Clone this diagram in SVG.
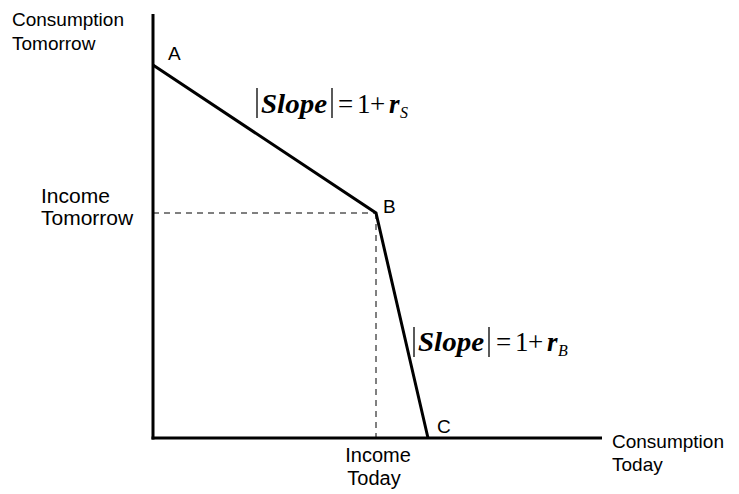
<svg xmlns="http://www.w3.org/2000/svg" width="739" height="494" viewBox="0 0 739 494">
<style>
.lbl{font-family:"Liberation Sans",Arial,sans-serif;font-size:19px;fill:#000}
.lbl21{font-size:21px}
.lbl20{font-size:20px}
.m{font-family:"Liberation Serif","Times New Roman",serif;font-size:27px;fill:#000}
.bi{font-weight:bold;font-style:italic}
.sub{font-style:italic;font-size:16px}
.bar{stroke:#000;stroke-width:1.3}
.axis{stroke:#000;stroke-width:3;fill:none}
.curve{stroke:#000;stroke-width:3;fill:none}
.dash{stroke:#000;stroke-width:1;stroke-dasharray:6,5;fill:none}
</style>
<rect width="739" height="494" fill="#fff"/>
<g id="connectors">
<line class="dash" x1="153" y1="213" x2="376" y2="213"/>
<line class="dash" x1="376" y1="213" x2="376" y2="438"/>
<polyline class="curve" points="153,65 376,213 428,438"/>
<line class="axis" x1="153" y1="14" x2="153" y2="439.5"/>
<line class="axis" x1="151.5" y1="438" x2="602" y2="438"/>
</g>
<g id="yaxis-label"><text class="lbl" x="12" y="26">Consumption</text><text class="lbl" x="12" y="50">Tomorrow</text></g>
<g id="xaxis-label"><text class="lbl" x="612" y="448">Consumption</text><text class="lbl" x="612" y="471">Today</text></g>
<g id="income-tomorrow"><text class="lbl lbl21" x="41" y="203">Income</text><text class="lbl lbl21" x="41" y="225">Tomorrow</text></g>
<g id="income-today"><text class="lbl lbl20" x="378" y="462" text-anchor="middle">Income</text><text class="lbl lbl20" x="374" y="485" text-anchor="middle">Today</text></g>
<g id="A"><text class="lbl" x="168" y="60">A</text></g>
<g id="B"><text class="lbl" x="383" y="213">B</text></g>
<g id="C"><text class="lbl" x="437" y="433">C</text></g>
<g id="slope-s">
<line class="bar" x1="257" y1="88" x2="257" y2="118"/>
<text class="m bi" x="261" y="113" textLength="66" lengthAdjust="spacingAndGlyphs">Slope</text>
<line class="bar" x1="332" y1="88" x2="332" y2="118"/>
<text class="m" x="338" y="113">=</text>
<text class="m" x="357" y="113">1</text>
<text class="m" x="370" y="113">+</text>
<text class="m bi" x="389" y="113">r</text>
<text class="m sub" x="400" y="118">S</text>
</g>
<g id="slope-b">
<line class="bar" x1="414" y1="327" x2="414" y2="357"/>
<text class="m bi" x="418" y="351" textLength="66" lengthAdjust="spacingAndGlyphs">Slope</text>
<line class="bar" x1="489" y1="327" x2="489" y2="357"/>
<text class="m" x="496" y="351">=</text>
<text class="m" x="515" y="351">1</text>
<text class="m" x="528" y="351">+</text>
<text class="m bi" x="547" y="351">r</text>
<text class="m sub" x="558" y="356">B</text>
</g>
</svg>
